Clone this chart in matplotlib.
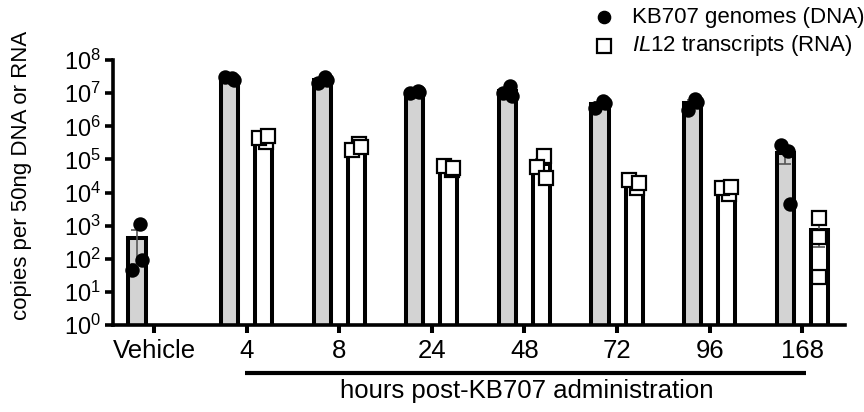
import numpy as np
import matplotlib
matplotlib.use("Agg")
import matplotlib.pyplot as plt
import matplotlib.transforms as mtransforms

plt.rcParams['font.family'] = ['Liberation Sans', 'DejaVu Sans']
plt.rcParams['mathtext.fontset'] = 'custom'
plt.rcParams['mathtext.rm'] = 'Liberation Sans'
plt.rcParams['mathtext.it'] = 'Liberation Sans:italic'
plt.rcParams['mathtext.default'] = 'regular'

# groups on the x axis
groups = ['Vehicle', '4', '8', '24', '48', '72', '96', '168']

# copies per 50 ng, three animals per group
dna = [
    [1100, 45, 90],
    [2.8e7, 3.0e7, 2.6e7],
    [3.0e7, 2.0e7, 2.6e7],
    [1.2e7, 1.0e7, 1.1e7],
    [1.7e7, 1.0e7, 8.0e6],
    [6.0e6, 3.5e6, 5.0e6],
    [6.5e6, 3.2e6, 5.5e6],
    [1.8e5, 2.7e5, 4.5e3],
]
# no RNA measured for vehicle
rna = [
    None,
    [3.3e5, 4.5e5, 5.0e5],
    [2.9e5, 1.9e5, 2.4e5],
    [4.8e4, 6.5e4, 5.5e4],
    [1.3e5, 6.0e4, 2.7e4],
    [1.4e4, 2.4e4, 1.9e4],
    [9.0e3, 1.4e4, 1.5e4],
    [1700, 450, 28],
]

# layout
x = np.arange(len(groups))
offset = 0.184
width = 0.184
jitter = np.array([0.03, -0.05, 0.05])
no_jitter = np.zeros(3)

fig = plt.figure(figsize=(8.64, 4.12), dpi=100)
ax = fig.add_axes([0.1308, 0.2112, 0.847, 0.6428])


def draw(vals, xpos, fill, marker, mfc, jit):
    vals = np.array(vals, dtype=float)
    mean = vals.mean()
    sem = vals.std(ddof=1) / np.sqrt(len(vals))
    ax.bar(xpos, mean, width=width, color=fill, edgecolor='black',
           linewidth=2.9, zorder=2)
    ax.errorbar(xpos, mean, yerr=sem, color='#555555', elinewidth=1.2,
                capsize=4, capthick=1.2, zorder=3)
    ax.plot(xpos + jit, vals, linestyle='none', marker=marker,
            markersize=9.5 if marker == 's' else 8.8,
            markerfacecolor=mfc, markeredgecolor='black',
            markeredgewidth=1.6, zorder=4, clip_on=False)


for i in range(len(groups)):
    draw(dna[i], x[i] - offset, '#d3d3d3', 'o', 'black', jitter)
    if rna[i] is not None:
        # last RNA group sits stacked in the middle of its bar
        jit = no_jitter if i == len(groups) - 1 else jitter
        draw(rna[i], x[i] + offset, 'white', 's', 'white', jit)

ax.set_yscale('log')
ax.set_ylim(1, 1e8)
ax.set_xlim(-0.443, 7.46)
ax.yaxis.set_major_locator(matplotlib.ticker.LogLocator(base=10, numticks=20))
ax.yaxis.set_minor_locator(matplotlib.ticker.NullLocator())
ax.set_xticks(x)
ax.set_xticklabels(groups)

for side in ['top', 'right']:
    ax.spines[side].set_visible(False)
for side in ['left', 'bottom']:
    ax.spines[side].set_linewidth(2.6)
ax.tick_params(axis='y', length=5.5, width=2.6, labelsize=17, pad=3)
ax.tick_params(axis='x', length=6, width=2.9, labelsize=18.5, pad=4)

ax.set_ylabel('copies per 50ng DNA or RNA', fontsize=16)
ax.yaxis.set_label_coords(-0.111, 0.566)

# underline for the time points + axis caption
trans = mtransforms.blended_transform_factory(ax.transData, fig.transFigure)
ax.plot([1 - 0.02, 7.04], [1 - 373 / 412, 1 - 373 / 412], color='black',
        linewidth=3.0, transform=trans, clip_on=False, solid_capstyle='butt')
fig.text(527 / 864, 1 - 391 / 412, 'hours post-KB707 administration',
         ha='center', va='center', fontsize=18.5)

# legend
fig.lines.append(plt.Line2D([604 / 864], [1 - 17 / 412], marker='o',
                            markersize=8.8, color='black',
                            transform=fig.transFigure))
fig.lines.append(plt.Line2D([604 / 864], [1 - 46 / 412], marker='s',
                            markersize=9.5, markerfacecolor='white',
                            markeredgecolor='black', markeredgewidth=1.6,
                            transform=fig.transFigure))
fig.text(632 / 864, 1 - 17 / 412, 'KB707 genomes (DNA)', ha='left',
         va='center', fontsize=16)
fig.text(632 / 864, 1 - 46 / 412, r'$\mathit{IL12}$ transcripts (RNA)',
         ha='left', va='center', fontsize=16)

fig.savefig('out.png', dpi=100)
